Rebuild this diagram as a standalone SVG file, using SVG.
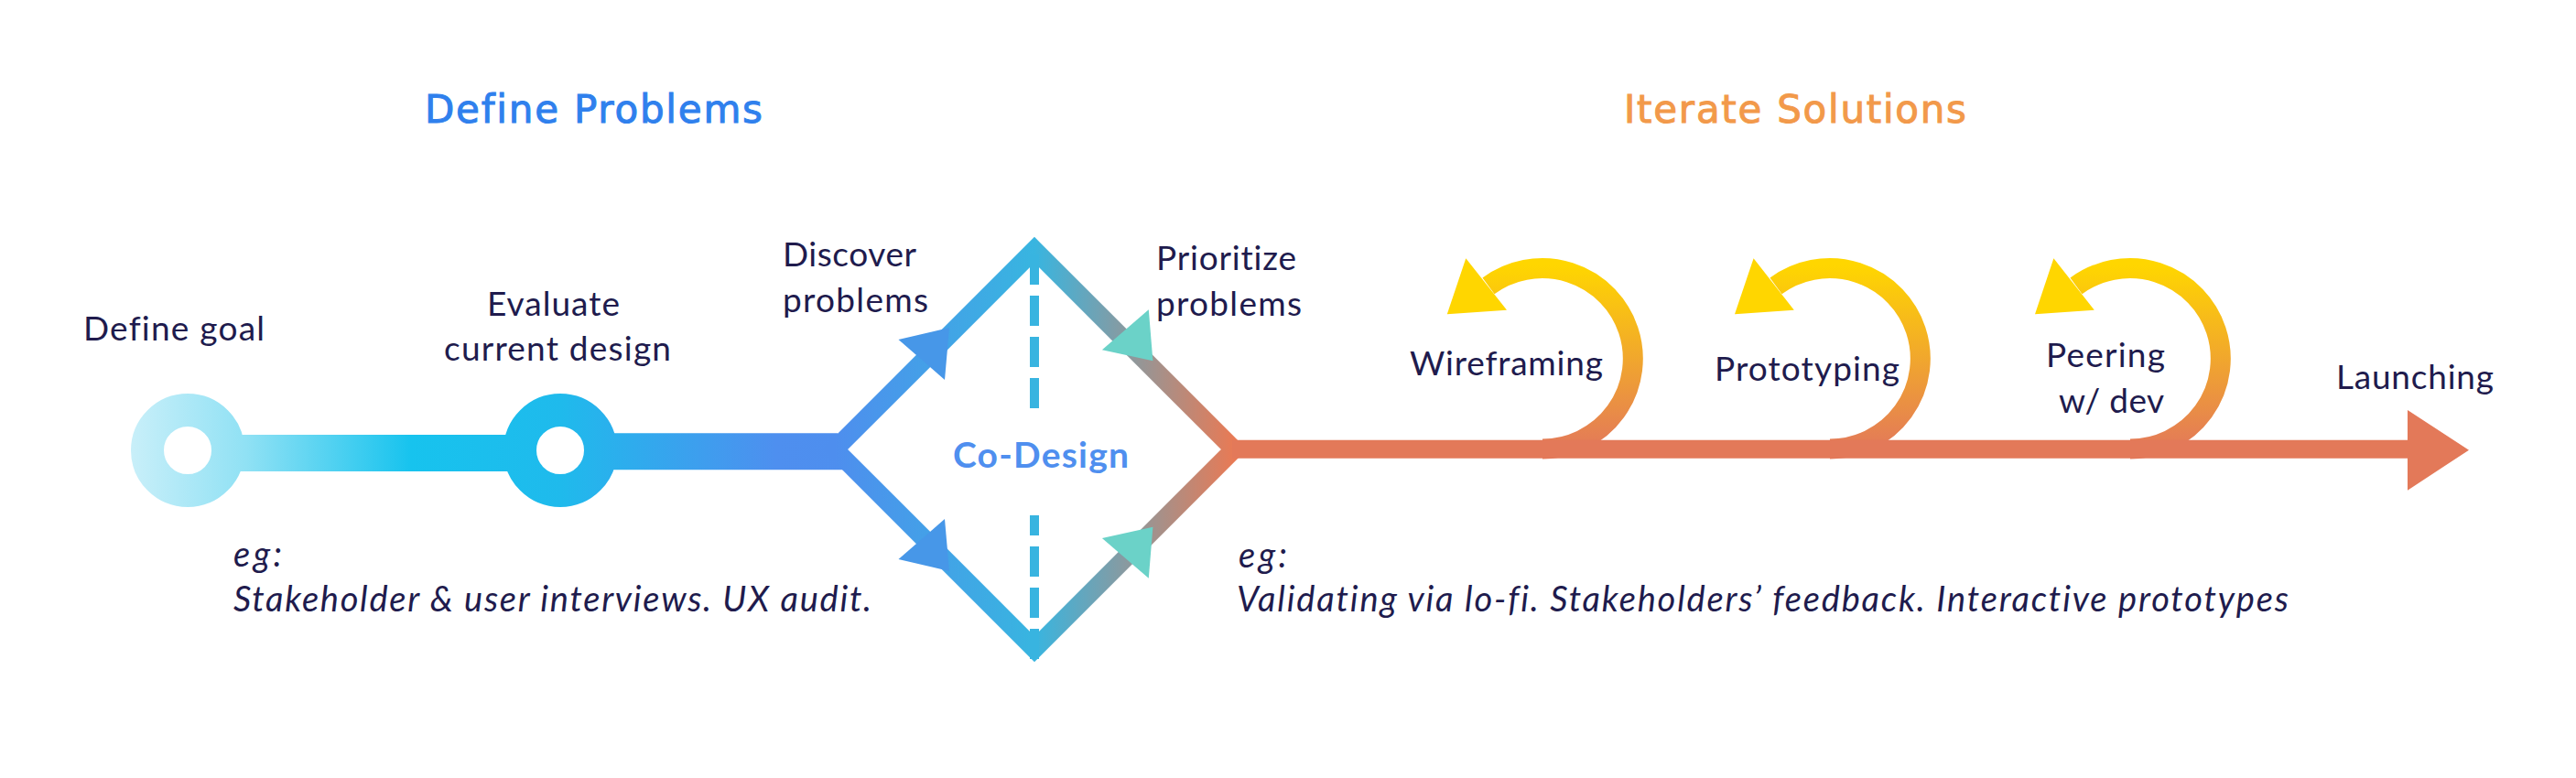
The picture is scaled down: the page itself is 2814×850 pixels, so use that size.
<svg xmlns="http://www.w3.org/2000/svg" width="2814" height="850" viewBox="0 0 2814 850">
<style>
text{font-family:"Lato","Liberation Sans",sans-serif;fill:#201b4d;font-size:37px;font-variant-ligatures:none}
.em{font-style:italic;font-size:38px}
.h{font-family:"DejaVu Sans","Liberation Sans",sans-serif;font-size:42px;stroke-width:1}
.loop{fill:none;stroke-width:22}
.blue{fill:#4797e8}.teal{fill:#6bd2c8}.yel{fill:#ffd600}.org{fill:#e37959}
.ring{fill:#fff;stroke-width:36}
.dash{fill:none;stroke:#38b4e0;stroke-width:10;stroke-dasharray:33 12}
</style>
<defs>
<linearGradient id="gA" gradientUnits="userSpaceOnUse" x1="144" y1="0" x2="926" y2="0">
<stop offset="0" stop-color="#c8eff9"/><stop offset=".16" stop-color="#90e1f4"/><stop offset=".39" stop-color="#17c3ee"/><stop offset=".6" stop-color="#1fbaec"/><stop offset=".9" stop-color="#4e8fef"/><stop offset="1" stop-color="#4e8eee"/>
</linearGradient>
<linearGradient id="gD" gradientUnits="userSpaceOnUse" x1="912" y1="0" x2="1348" y2="0">
<stop offset="0" stop-color="#4e8eee"/><stop offset=".5" stop-color="#38b5e0"/><stop offset="1" stop-color="#e87a55"/>
</linearGradient>
<linearGradient id="gL" gradientUnits="userSpaceOnUse" x1="0" y1="290" x2="0" y2="490">
<stop offset="0" stop-color="#ffd600"/><stop offset="1" stop-color="#e37959"/>
</linearGradient>
</defs>
<rect width="2814" height="850" fill="#fff"/>
<g id="connectors">
<rect x="205" y="475" width="407" height="40" fill="url(#gA)"/>
<polygon points="612,473.3 915,473.3 926,491 921,513.3 612,513.3" fill="url(#gA)"/>
<polygon points="1130,273 1348,491 1130,709 912,491" fill="none" stroke="url(#gD)" stroke-width="20"/>
<line class="dash" x1="1130" y1="278" x2="1130" y2="446"/>
<line class="dash" x1="1130" y1="720" x2="1130" y2="563"/>
<polygon class="blue" points="981.5,371 1037,358 1032,415"/>
<polygon class="blue" points="981.5,611 1037,624 1032,567"/>
<polygon class="teal" points="1254.8,338.3 1203.9,382.3 1259.4,394.3"/>
<polygon class="teal" points="1254.8,631.7 1203.9,588 1259.4,575.7"/>
<path class="loop" stroke="url(#gL)" d="M1685,490.5A99,98.7 0 1 0 1626,312.4"/>
<path class="loop" stroke="url(#gL)" d="M1999,490.5A99,98.7 0 1 0 1940,312.4"/>
<path class="loop" stroke="url(#gL)" d="M2327,490.5A99,98.7 0 1 0 2268,312.4"/>
<polygon class="yel" points="1601.3,282.3 1580.8,343.3 1646,338.7"/>
<polygon class="yel" points="1915.6,282.3 1895,343.3 1959.8,338.7"/>
<polygon class="yel" points="2243.4,282.3 2223,343.3 2287.8,338.7"/>
<polygon class="org" points="1346,480.7 2630,480.7 2630,448 2697,491.7 2630,535.7 2630,500.7 1346,500.7"/>
</g>
<g id="heading-define"><text class="h" x="464" y="134" textLength="369" style="fill:#2f80ed;stroke:#2f80ed">Define Problems</text></g>
<g id="heading-iterate"><text class="h" x="1774" y="134" textLength="374" style="fill:#f2994a;stroke:#f2994a">Iterate Solutions</text></g>
<g id="node-define-goal">
<circle class="ring" cx="205" cy="492" r="44" stroke="url(#gA)"/>
<text x="91" y="372" textLength="198">Define goal</text>
</g>
<g id="node-evaluate">
<circle class="ring" cx="612" cy="492" r="44" stroke="url(#gA)"/>
<text x="532" y="345" textLength="145">Evaluate</text>
<text x="485" y="394" textLength="248">current design</text>
</g>
<g id="note-left">
<text class="em" x="255" y="619" textLength="53">eg:</text>
<text class="em" x="255" y="668" textLength="697">Stakeholder &amp; user interviews. UX audit.</text>
</g>
<g id="node-discover">
<text x="855" y="291" textLength="146">Discover</text>
<text x="855" y="341" textLength="159">problems</text>
</g>
<g id="node-prioritize">
<text x="1263" y="295" textLength="153">Prioritize</text>
<text x="1263" y="345" textLength="159">problems</text>
</g>
<g id="node-codesign"><text x="1041" y="511" textLength="192" style="font-size:39px;font-weight:700;fill:#4f8fef">Co-Design</text></g>
<g id="note-right">
<text class="em" x="1353" y="620" textLength="53">eg:</text>
<text class="em" x="1351" y="668" textLength="1149">Validating via lo-fi. Stakeholders’ feedback. Interactive prototypes</text>
</g>
<g id="node-wireframing"><text x="1540" y="410" textLength="211">Wireframing</text></g>
<g id="node-prototyping"><text x="1873" y="416" textLength="202">Prototyping</text></g>
<g id="node-peering">
<text x="2235" y="401" textLength="130">Peering</text>
<text x="2249" y="451" textLength="115">w/ dev</text>
</g>
<g id="node-launching"><text x="2552" y="425" textLength="172">Launching</text></g>
</svg>
